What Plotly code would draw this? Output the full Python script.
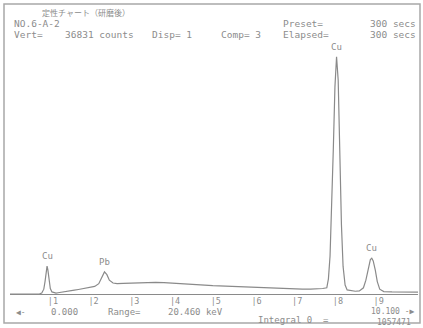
import plotly.graph_objects as go

# ---- data (energy keV, counts) ----
energy_kev = [0.0, 0.5, 0.75, 0.80, 0.85, 0.88, 0.91, 0.93, 0.95, 0.98, 1.01, 1.05, 1.10, 1.15,
              1.20, 1.30, 1.40, 1.50, 1.60, 1.70, 1.80, 1.90, 2.00, 2.10, 2.20, 2.28, 2.34, 2.40,
              2.46, 2.55, 2.65, 2.80, 3.00, 3.20, 3.40, 3.60, 3.80, 4.00, 4.20, 4.40, 4.60, 4.80,
              5.00, 5.20, 5.40, 5.60, 5.80, 6.00, 6.20, 6.40, 6.60, 6.80, 7.00, 7.20, 7.40, 7.60,
              7.70, 7.80, 7.84, 7.88, 7.92, 7.96, 8.00, 8.04, 8.08, 8.12, 8.16, 8.20, 8.25, 8.30,
              8.40, 8.50, 8.60, 8.70, 8.76, 8.82, 8.87, 8.905, 8.94, 8.99, 9.04, 9.10, 9.20, 9.40,
              9.60, 9.80, 10.0, 10.2]
counts = [0, 0, 30, 150, 700, 1800, 3300, 4050, 3500, 2000, 800, 300, 150, 120,
          180, 250, 350, 450, 550, 650, 750, 850, 950, 1100, 1500, 2400, 3200, 2800,
          2000, 1600, 1500, 1550, 1600, 1700, 1750, 1700, 1650, 1600, 1500, 1450, 1400, 1300,
          1200, 1150, 1100, 1050, 1000, 950, 900, 850, 800, 780, 750, 720, 700, 700,
          800, 900, 2200, 5500, 12000, 21000, 30000, 34400, 31000, 20000, 10000, 4000, 1300, 600,
          450, 400, 450, 900, 2000, 3800, 5000, 5200, 4800, 3500, 1800, 700, 350, 300,
          280, 260, 250, 250]

peak_labels = ["Cu", "Pb", "Cu", "Cu"]
peak_energy = [0.93, 2.34, 8.04, 8.905]
peak_counts = [4050, 3200, 34400, 5200]

tick_values = [1, 2, 3, 4, 5, 6, 7, 8, 9]
tick_labels = ["|1", "|2", "|3", "|4", "|5", "|6", "|7", "|8", "|9"]

full_scale = 36831

GRAY = "#8a8a8a"
TXT = "#8c8c8c"
MONO = "DejaVu Sans Mono"

fig = go.Figure()
fig.add_trace(go.Scatter(x=energy_kev, y=counts, mode="lines",
                         line=dict(color=GRAY, width=1.2), hoverinfo="skip", showlegend=False))

# plot area: x 10..418, y 40..294 (pixels)
L, R, T, B = 10, 418, 40, 294
W, H = R - L, B - T


def px(xp, yp):
    return (xp - L) / W, (B - yp) / H


annotations = []


def txt(s, xp, yp, anchor="left", size=9.5, font=MONO):
    x, y = px(xp, yp)
    annotations.append(dict(text=s, x=x, y=y, xref="paper", yref="paper", showarrow=False,
                            xanchor=anchor, yanchor="middle",
                            font=dict(family=font, size=size, color=TXT)))


txt("定性チャート（研磨後）", 40, 13, size=8, font="Noto Sans CJK JP")
txt("NO.6-A-2", 12, 24)
txt("Vert=", 12, 34)
txt("36831 counts", 63, 34)
txt("Disp= 1", 150, 34)
txt("Comp= 3", 219, 34)
txt("Preset=", 281, 24)
txt("Elapsed=", 281, 34)
txt("300 secs", 418, 24, anchor="right")
txt("300 secs", 418, 34, anchor="right")
txt("◀-", 14, 312, size=8)
txt("0.000", 49, 312, size=9)
txt("Range=", 106, 312, size=9)
txt("20.460 keV", 166, 312, size=9)
txt("10.100 -▶", 417, 311, anchor="right", size=8)
txt("Integral 0  =", 256, 320, size=9)
txt("1057471", 413, 322, anchor="right", size=8)

for lab, e, c in zip(peak_labels, peak_energy, peak_counts):
    annotations.append(dict(text=lab, x=e, y=c, xref="x", yref="y", showarrow=False,
                            xanchor="center", yanchor="bottom", yshift=3,
                            font=dict(family=MONO, size=9, color=TXT)))

fig.update_layout(
    width=423, height=328,
    margin=dict(l=L, r=423 - R, t=T, b=328 - B),
    paper_bgcolor="white", plot_bgcolor="white",
    showlegend=False,
    annotations=annotations,
    shapes=[dict(type="rect", xref="paper", yref="paper",
                 x0=(4 - L) / W, x1=(420 - L) / W, y0=(B - 323) / H, y1=(B - 4) / H,
                 line=dict(color="#a8a8a8", width=1.5), fillcolor="rgba(0,0,0,0)", layer="above")],
    xaxis=dict(range=[0.02, 10.04], showgrid=False, zeroline=False, showline=True,
               linecolor=GRAY, linewidth=1, ticks="", tickvals=tick_values, ticktext=tick_labels,
               tickfont=dict(family=MONO, size=8.5, color=TXT), ticklabelshift=3,
               ticklabelstandoff=-1, fixedrange=True),
    yaxis=dict(range=[0, full_scale], visible=False, fixedrange=True),
)

fig.write_html("out.html", config={"displayModeBar": False},
               post_script="document.body.style.margin='0';document.body.style.padding='0';")
